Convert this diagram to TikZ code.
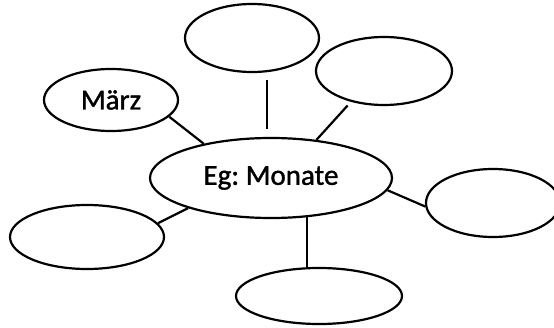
\documentclass[tikz,border=0pt]{standalone}
\usepackage{fontspec}
\setmainfont{Carlito}
\newfontfamily\scanfont[FakeBold=1.3]{Carlito}
\usetikzlibrary{shapes.geometric}
\begin{document}
\begin{tikzpicture}[x=1pt,y=1pt,
  bubble/.style={ellipse, draw, line width=2.2pt, inner sep=0pt, font=\scanfont\frenchspacing\fontsize{29}{33}\selectfont},
  link/.style={line width=2.2pt}]
\clip (0,0) rectangle (554,327);
\useasboundingbox (0,0) rectangle (554,327);
\node[bubble, minimum width=242pt, minimum height=80pt] (center) at (271,149) {Eg: Monate};
\node[bubble, minimum width=134pt, minimum height=68pt] (top) at (252,289) {};
\node[bubble, minimum width=136pt, minimum height=68pt] (ur) at (384,256) {};
\node[bubble, minimum width=134pt, minimum height=62pt] (maerz) at (111,227) {März};
\node[bubble, minimum width=134pt, minimum height=68pt] (right) at (493,124) {};
\node[bubble, minimum width=154pt, minimum height=64pt] (left) at (87,90) {};
\node[bubble, minimum width=166pt, minimum height=56pt] (bottom) at (319,31) {};
\draw[link] (maerz.-16) -- (center.153);
\draw[link, shorten <=7pt, shorten >=8pt] ([xshift=15pt]top.south) -- ([xshift=-4pt]center.north);
\draw[link, shorten <=5pt] (ur.223) -- (center.40);
\draw[link] (center.-6) -- (right.183);
\draw[link] (center.200) -- (left.11);
\draw[link] ([xshift=36pt,yshift=2pt]center.south) -- ([xshift=-12pt]bottom.north);
\end{tikzpicture}
\end{document}
